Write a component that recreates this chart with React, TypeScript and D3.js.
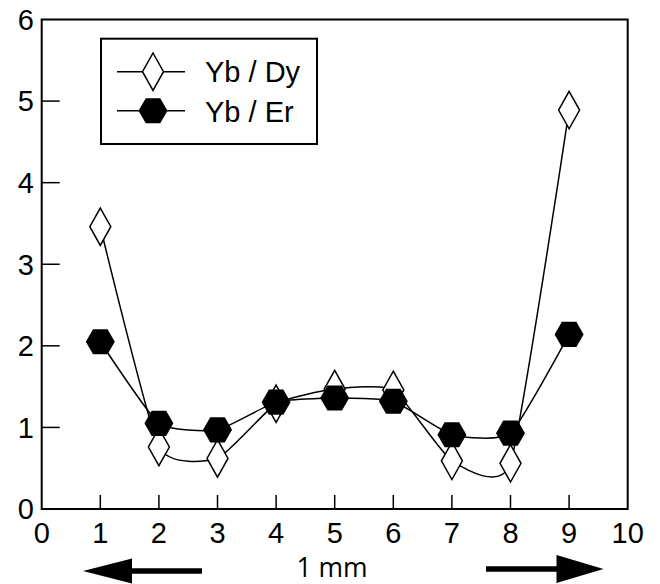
import React from 'react';
import * as d3 from 'd3';

const W = 660;
const H = 584;

// positions along the sample (x) and the two ratio series
const positions = [1, 2, 3, 4, 5, 6, 7, 8, 9];
const ybDy = [3.46, 0.76, 0.62, 1.29, 1.47, 1.46, 0.59, 0.56, 4.89];
const ybEr = [2.05, 1.05, 0.97, 1.31, 1.36, 1.32, 0.91, 0.93, 2.14];
const xTicks = [0, 1, 2, 3, 4, 5, 6, 7, 8, 9, 10];
const yTicks = [0, 1, 2, 3, 4, 5, 6];

const FONT = '"Liberation Sans", Arial, Helvetica, sans-serif';

const x = d3.scaleLinear().domain([0, 10]).range([41.7, 627.7]);
const y = d3.scaleLinear().domain([0, 6]).range([509, 19.5]);

const line = d3
  .line<[number, number]>()
  .x(d => x(d[0]))
  .y(d => y(d[1]))
  .curve(d3.curveCardinal.tension(0.5));

const hexR = 14.5;
const hexPath = (() => {
  const p = d3.path();
  d3.range(6).forEach(i => {
    const a = (Math.PI / 3) * i;
    const px = hexR * Math.cos(a);
    const py = hexR * Math.sin(a);
    if (i === 0) p.moveTo(px, py);
    else p.lineTo(px, py);
  });
  p.closePath();
  return p.toString();
})();

const diamondPath = 'M0,-18.7L10.5,0L0,18.7L-10.5,0Z';

const Diamond = ({ cx, cy }: { cx: number; cy: number }) => (
  <path d={diamondPath} transform={`translate(${cx},${cy})`} fill="#fff" stroke="#000" strokeWidth={1.5} />
);

const Hex = ({ cx, cy }: { cx: number; cy: number }) => (
  <path d={hexPath} transform={`translate(${cx},${cy})`} fill="#000" />
);

export default function App() {
  const [x0, x1] = x.range();
  const [y0, y1] = y.range();
  const dyPts = positions.map((p, i) => [p, ybDy[i]] as [number, number]);
  const erPts = positions.map((p, i) => [p, ybEr[i]] as [number, number]);

  return (
    <svg
      width={W}
      height={H}
      style={{ position: 'absolute', left: 0, top: 0, background: '#fff' }}
      fontFamily={FONT}
    >
      {/* frame */}
      <rect x={x0} y={y1} width={x1 - x0} height={y0 - y1} fill="none" stroke="#000" strokeWidth={2} />

      {/* x ticks */}
      {xTicks.map(t => (
        <g key={'x' + t}>
          {t > 0 && t < 10 && (
            <line x1={x(t)} x2={x(t)} y1={y0} y2={y0 - 14} stroke="#000" strokeWidth={1.5} />
          )}
          <text x={x(t)} y={543} fontSize={29} textAnchor="middle">
            {t}
          </text>
        </g>
      ))}

      {/* y ticks */}
      {yTicks.map(t => (
        <g key={'y' + t}>
          {t > 0 && t < 6 && (
            <line x1={x0} x2={x0 + 18} y1={y(t)} y2={y(t)} stroke="#000" strokeWidth={1.5} />
          )}
          <text x={34} y={y(t) + 10.4} fontSize={29} textAnchor="end">
            {t}
          </text>
        </g>
      ))}

      {/* series lines */}
      <path d={line(dyPts) || ''} fill="none" stroke="#000" strokeWidth={1.5} />
      <path d={line(erPts) || ''} fill="none" stroke="#000" strokeWidth={1.5} />

      {dyPts.map((d, i) => (
        <Diamond key={'d' + i} cx={x(d[0])} cy={y(d[1])} />
      ))}
      {erPts.map((d, i) => (
        <Hex key={'h' + i} cx={x(d[0])} cy={y(d[1])} />
      ))}

      {/* legend */}
      <rect x={101} y={38.7} width={216} height={105.3} fill="#fff" stroke="#000" strokeWidth={2} />
      <line x1={117} x2={185} y1={71.7} y2={71.7} stroke="#000" strokeWidth={1.5} />
      <Diamond cx={153} cy={71.7} />
      <text x={205} y={82} fontSize={29}>
        Yb / Dy
      </text>
      <line x1={117} x2={185} y1={110.7} y2={110.7} stroke="#000" strokeWidth={1.5} />
      <Hex cx={153} cy={110.7} />
      <text x={205} y={121.5} fontSize={29}>
        Yb / Er
      </text>

      {/* scale arrows */}
      <line x1={129} x2={202} y1={571} y2={571} stroke="#000" strokeWidth={5.7} />
      <path d="M83,571L132,558.5L132,583.5Z" fill="#000" />
      <line x1={486} x2={559} y1={569} y2={569} stroke="#000" strokeWidth={5.7} />
      <path d="M603.5,569L556.5,555L556.5,583Z" fill="#000" />
      <text x={332} y={577} fontSize={26.5} textAnchor="middle" fontFamily='"Open Sans", "Noto Sans", sans-serif'>
        1 mm
      </text>
    </svg>
  );
}
